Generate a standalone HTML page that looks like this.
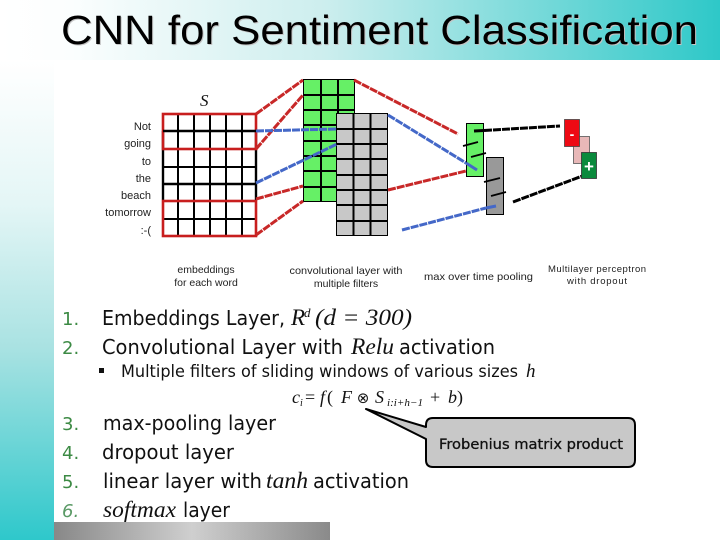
<!DOCTYPE html>
<html><head><meta charset="utf-8">
<style>
html,body{margin:0;padding:0;background:#fff;width:720px;height:540px;overflow:hidden}
svg{display:block}
.a{font-family:"Liberation Sans",sans-serif}
.b{font-family:"DejaVu Sans","Liberation Sans",sans-serif;font-size:20px;fill:#111}
.m{font-family:"Liberation Serif",serif;font-style:italic;fill:#111}
.s{font-family:"Liberation Sans",sans-serif;font-size:10.5px;fill:#222}
.n{font-family:"DejaVu Sans",sans-serif;font-size:18px;fill:#3c8a44}
</style></head><body>
<svg width="720" height="540" viewBox="0 0 720 540" xmlns="http://www.w3.org/2000/svg">
<defs>
<linearGradient id="t" x1="0" x2="1" y1="0" y2="0"><stop offset="0" stop-color="#fff"/><stop offset=".1" stop-color="#fbfefe"/><stop offset=".45" stop-color="#cdeeee"/><stop offset="1" stop-color="#2ec8c8"/></linearGradient>
<linearGradient id="l" x1="0" x2="0" y1="0" y2="1"><stop offset="0" stop-color="#fff"/><stop offset=".3" stop-color="#e4f6f6"/><stop offset=".6" stop-color="#a9e2e2"/><stop offset="1" stop-color="#2ec8cb"/></linearGradient>
<linearGradient id="g" x1="0" x2="1" y1="0" y2="0"><stop offset="0" stop-color="#888"/><stop offset=".5" stop-color="#cfcfcf"/><stop offset="1" stop-color="#8a8a8a"/></linearGradient>
</defs>
<rect x="0" y="0" width="720" height="60" fill="url(#t)"/>
<rect x="0" y="60" width="54" height="480" fill="url(#l)"/>
<rect x="54" y="522" width="276" height="18" fill="url(#g)"/>

<text class="a" x="62" y="45" font-size="41" fill="#c4c4c4" textLength="637" lengthAdjust="spacingAndGlyphs">CNN for Sentiment Classification</text>
<text class="a" x="61" y="44" font-size="41" fill="#000" textLength="637" lengthAdjust="spacingAndGlyphs">CNN for Sentiment Classification</text>

<text class="m" x="200" y="106" font-size="17">S</text>
<g class="s" text-anchor="end" style="font-size:11px">
<text x="151" y="130">Not</text><text x="151" y="147">going</text><text x="151" y="165">to</text><text x="151" y="182">the</text><text x="151" y="199">beach</text><text x="151" y="216">tomorrow</text><text x="151" y="234">:-(</text>
</g>

<!-- S matrix -->
<path d="M178 114V236M194 114V236M210 114V236M226 114V236M242 114V236M163 167H256M163 219H256" stroke="#000" stroke-width="2" fill="none"/>
<path d="M163 131V200M256 131V200" stroke="#000" stroke-width="2.4" fill="none"/>
<rect x="163" y="114" width="93" height="35" fill="none" stroke="#c81e1e" stroke-width="2.6"/>
<rect x="163" y="201" width="93" height="35" fill="none" stroke="#c81e1e" stroke-width="2.6"/>
<path d="M163 131H256M163 184H256" stroke="#000" stroke-width="2.6"/>

<!-- green matrix -->
<rect x="303.5" y="79.5" width="51" height="122" fill="#66f066" stroke="#000" stroke-width="1"/>
<path d="M321 79V201M338 79V201M303 95H354M303 110H354M303 125H354M303 141H354M303 156H354M303 171H354M303 187H354" stroke="#000" stroke-width="2" fill="none"/>
<!-- gray matrix -->
<rect x="336.5" y="113.5" width="51" height="122" fill="#c8c8c8" stroke="#000" stroke-width="1"/>
<path d="M353.5 113V235M370.5 113V235M336 129H388M336 144H388M336 159H388M336 175H388M336 190H388M336 205H388M336 221H388" stroke="#000" stroke-width="2" fill="none"/>

<!-- connectors behind max-pool boxes -->
<g fill="none" stroke-width="3" stroke-dasharray="8 1">
<path stroke="#c82828" d="M256 114L303 80M256 149L303 95M256 199L303 186M256 235L303 201M354 80L458 134M388 190L466 171"/>
<path stroke="#4468c8" d="M256 131L336 129M256 183L337 144M388 115L466 163M402 230L486 208"/>
<path stroke="#000" d="M484 130.500L560 126M513 202L585 175"/>
</g>

<!-- max pool -->
<rect x="466.5" y="123.5" width="17" height="53" fill="#66f066" stroke="#000" stroke-width="1"/>
<rect x="486.5" y="157.5" width="17" height="57" fill="#999" stroke="#000" stroke-width="1"/>
<path d="M466 163L477 170M486 208L496 206" stroke="#4468c8" stroke-width="3"/>
<path d="M474 131L484 130.500" stroke="#000" stroke-width="3"/>
<path d="M463 146L478 142M471 157L486 153M484 182L500 178M491 196L506 192" stroke="#000" stroke-width="1.8"/>

<!-- MLP -->
<rect x="573.5" y="136.500" width="16" height="27" fill="#e8b8b8" stroke="#555" stroke-width=".8"/>
<rect x="564.500" y="119.500" width="15" height="27" fill="#ee0a14" stroke="#444" stroke-width=".8"/>
<rect x="581.500" y="152.500" width="15" height="26" fill="#0a8a3c" stroke="#333" stroke-width=".8"/>
<text class="a" x="572" y="139" font-size="14" font-weight="bold" fill="#fff" text-anchor="middle">-</text>
<text class="a" x="589" y="172" font-size="17" font-weight="bold" fill="#fff" text-anchor="middle">+</text>

<!-- captions -->
<g class="s" text-anchor="middle">
<text x="206" y="273">embeddings</text><text x="206" y="286">for each word</text>
<text x="346" y="274" textLength="113" lengthAdjust="spacingAndGlyphs">convolutional layer with</text><text x="346" y="287">multiple filters</text>
<text x="478.500" y="280" textLength="109" lengthAdjust="spacingAndGlyphs">max over time pooling</text>
</g>
<g class="s" text-anchor="middle" style="font-size:9.500px">
<text x="597" y="272" textLength="98">Multilayer perceptron</text><text x="597" y="284" textLength="60">with dropout</text>
</g>

<!-- numbers -->
<text class="n" x="62" y="325">1.</text>
<text class="n" x="62" y="354">2.</text>
<text class="n" x="62" y="430">3.</text>
<text class="n" x="62" y="459">4.</text>
<text class="n" x="62" y="488">5.</text>
<text class="n" x="62" y="517" font-style="italic" style="fill:#5a9a66">6.</text>

<!-- body -->
<text class="b" x="102" y="325" textLength="183" lengthAdjust="spacingAndGlyphs">Embeddings Layer,</text>
<text class="m" x="291" y="325" font-size="23">R</text>
<text class="m" x="304" y="317" font-size="13">d</text>
<text class="m" x="315" y="325" font-size="23" textLength="97" lengthAdjust="spacingAndGlyphs">(d = 300)</text>

<text class="b" x="102" y="354" textLength="241" lengthAdjust="spacingAndGlyphs">Convolutional Layer with</text>
<text class="m" x="351" y="354" font-size="23" textLength="43" lengthAdjust="spacingAndGlyphs">Relu</text>
<text class="b" x="399" y="354" textLength="96" lengthAdjust="spacingAndGlyphs">activation</text>

<rect x="99" y="368" width="5" height="5" fill="#111"/>
<text class="b" x="121" y="377" style="font-size:17px" textLength="397" lengthAdjust="spacingAndGlyphs">Multiple filters of sliding windows of various sizes</text>
<text class="m" x="526" y="377" font-size="19">h</text>

<text class="m" x="292" y="403" font-size="18">c</text>
<text class="m" x="300" y="406" font-size="10">i</text>
<text class="m" x="305" y="403" font-size="18" style="font-style:normal">=</text>
<text class="m" x="320" y="403" font-size="18">f</text>
<text class="m" x="327" y="403" font-size="18" style="font-style:normal">(</text>
<text class="m" x="341" y="403" font-size="18">F</text>
<text class="m" x="363" y="403" font-size="15" style="font-family:'DejaVu Sans',sans-serif;font-style:normal" text-anchor="middle">⊗</text>
<text class="m" x="375" y="403" font-size="18">S</text>
<text class="m" x="387" y="406" font-size="11" textLength="36" lengthAdjust="spacingAndGlyphs">i:i+h−1</text>
<text class="m" x="430" y="403" font-size="18" style="font-style:normal">+</text>
<text class="m" x="448" y="403" font-size="18">b</text>
<text class="m" x="457" y="403" font-size="18" style="font-style:normal">)</text>

<text class="b" x="103" y="430" textLength="173" lengthAdjust="spacingAndGlyphs">max-pooling layer</text>
<text class="b" x="102" y="459" textLength="132" lengthAdjust="spacingAndGlyphs">dropout layer</text>
<text class="b" x="103" y="488" textLength="159" lengthAdjust="spacingAndGlyphs">linear layer with</text>
<text class="m" x="266" y="488" font-size="23" textLength="42" lengthAdjust="spacingAndGlyphs">tanh</text>
<text class="b" x="313" y="488" textLength="96" lengthAdjust="spacingAndGlyphs">activation</text>
<text class="m" x="103" y="517" font-size="23" textLength="73" lengthAdjust="spacingAndGlyphs">softmax</text>
<text class="b" x="183" y="517" textLength="47" lengthAdjust="spacingAndGlyphs">layer</text>

<!-- callout -->
<path d="M433 418H628Q635 418 635 425V460Q635 467 628 467H433Q426 467 426 460V439L366 409L426 427V425Q426 418 433 418Z" fill="#c8c8c8" stroke="#000" stroke-width="2" stroke-linejoin="round"/>
<text x="439" y="449" font-size="14" fill="#111" textLength="184" lengthAdjust="spacingAndGlyphs" style="font-family:'DejaVu Sans',sans-serif;stroke:#111;stroke-width:.3">Frobenius matrix product</text>
</svg>
</body></html>
